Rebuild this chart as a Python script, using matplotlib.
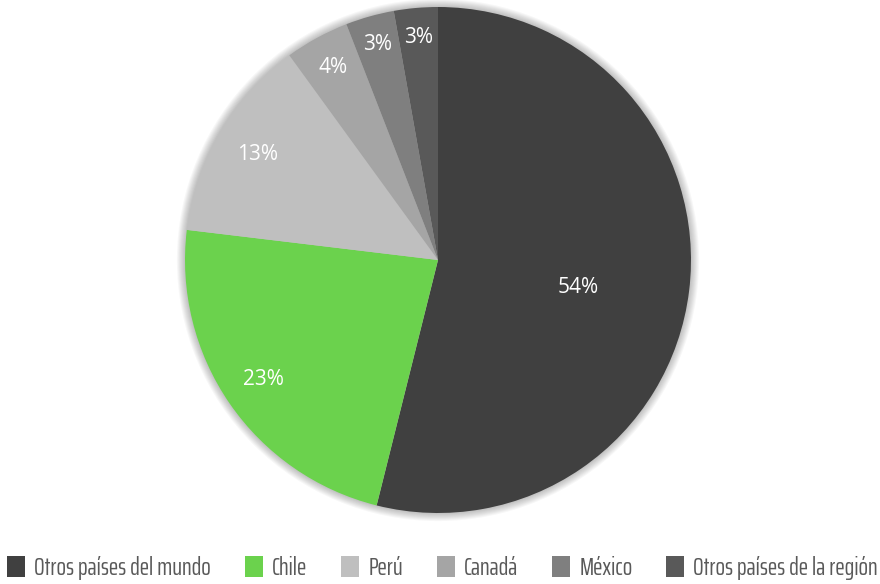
import matplotlib
matplotlib.use('Agg')
import matplotlib.pyplot as plt
import matplotlib.patches as mpatches
import numpy as np

labels = ['Otros países del mundo', 'Chile', 'Perú', 'Canadá', 'México', 'Otros países de la región']
values = [53.9, 23.0, 13.1, 4.1, 3.1, 2.8]
colors = ['#404040', '#6bd24d', '#bfbfbf', '#a5a5a5', '#7f7f7f', '#595959']
label_r = [0.564, 0.836, 0.827, 0.867, 0.885, 0.881]
label_dang = [-4, 0, 0, 0, 0, 0]

fig = plt.figure(figsize=(8.8, 5.84), dpi=100)
cx, cy, r = 438, 260, 253
ax = fig.add_axes([(cx - r * 1.05) / 880, (584 - cy - r * 1.05) / 584, 2.1 * r / 880, 2.1 * r / 584])

# soft outer shadow
for k in range(8):
    ax.add_patch(mpatches.Circle((0, 0), 1.0 + 0.004 * (k + 1), color='#000000',
                                 alpha=0.03, lw=0, zorder=0))

wedges, _ = ax.pie(values, colors=colors, startangle=90, counterclock=False,
                   wedgeprops=dict(linewidth=0, zorder=2))
ax.set_aspect('equal')
ax.set_xlim(-1.05, 1.05)
ax.set_ylim(-1.05, 1.05)

for w, v, rr, da in zip(wedges, values, label_r, label_dang):
    ang = np.deg2rad((w.theta1 + w.theta2) / 2 + da)
    ax.text(rr * np.cos(ang), rr * np.sin(ang), '%.0f%%' % v, ha='center', va='center',
            color='white', fontsize=15, family='Open Sans', fontstretch='normal', zorder=3)

leg = fig.legend(wedges, labels, loc='center', bbox_to_anchor=(0.503, 0.027), ncol=6,
                 frameon=False, handlelength=0.72, handleheight=0.93, handletextpad=0.36,
                 columnspacing=1.36, borderpad=0,
                 prop={'family': 'Saira ExtraCondensed', 'size': 18})
for t in leg.get_texts():
    t.set_color('#595959')

plt.savefig('out.png', dpi=100)
